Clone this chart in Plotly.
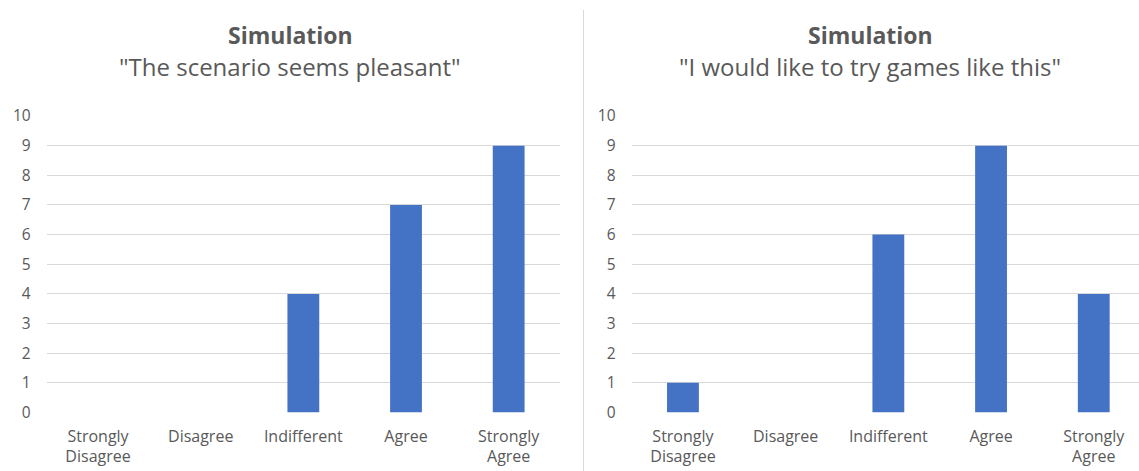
import plotly.graph_objects as go

categories = ["Strongly<br>Disagree", "Disagree", "Indifferent", "Agree", "Strongly<br>Agree"]
pleasant_counts = [0, 0, 4, 7, 9]
try_games_counts = [1, 0, 6, 9, 4]
main_title = "Simulation"
left_subtitle = "\"The scenario seems pleasant\""
right_subtitle = "\"I would like to try games like this\""
y_ticks = list(range(0, 11))

W, H = 1139, 471
BAR = "#4472C4"
GRID = "#D9D9D9"
TXT = "#595959"
FONT = "Open Sans"

def px_x(p):
    return p / W

def px_y(p):
    return (H - p) / H

fig = go.Figure()
fig.add_trace(go.Bar(x=categories, y=pleasant_counts, marker_color=BAR, marker_line_width=0,
                     width=0.31, xaxis="x", yaxis="y", showlegend=False))
fig.add_trace(go.Bar(x=categories, y=try_games_counts, marker_color=BAR, marker_line_width=0,
                     width=0.31, xaxis="x2", yaxis="y2", showlegend=False))

ydom = [px_y(412.5), px_y(116)]
cat_w = 102.7
right_start = 631.6
right_end_val = -0.5 + (W - right_start) / cat_w

xcommon = dict(showgrid=False, zeroline=False, showline=False, ticks="", automargin=False,
               tickfont=dict(family=FONT, size=16, color=TXT),
               ticklabelstandoff=12, type="category")
ycommon = dict(range=[0, 10], tickvals=y_ticks, showgrid=True, gridcolor=GRID, gridwidth=1,
               zeroline=False, showline=False, ticks="", automargin=False,
               tickfont=dict(family=FONT, size=15.5, color=TXT),
               ticklabelstandoff=15)

fig.update_layout(
    width=W, height=H,
    margin=dict(l=0, r=0, t=0, b=0, autoexpand=False),
    paper_bgcolor="white", plot_bgcolor="white",
    xaxis=dict(domain=[px_x(46.7), px_x(560)], range=[-0.5, 4.5], anchor="y", **xcommon),
    yaxis=dict(domain=ydom, anchor="x", **ycommon),
    xaxis2=dict(domain=[px_x(right_start), 1.0], range=[-0.5, right_end_val], anchor="y2", **xcommon),
    yaxis2=dict(domain=ydom, anchor="x2", **ycommon),
    font=dict(family=FONT, color=TXT),
)

for x, sub in [(290, left_subtitle), (870, right_subtitle)]:
    fig.add_annotation(x=px_x(x), y=px_y(35.5), xref="paper", yref="paper",
                       text=f"<b>{main_title}</b>", showarrow=False,
                       xanchor="center", yanchor="middle",
                       font=dict(family=FONT, size=23, color=TXT))
    fig.add_annotation(x=px_x(x), y=px_y(67), xref="paper", yref="paper",
                       text=sub, showarrow=False,
                       xanchor="center", yanchor="middle",
                       font=dict(family=FONT, size=24, color=TXT))

fig.add_shape(type="line", xref="paper", yref="paper",
              x0=px_x(583.5), x1=px_x(583.5), y0=0, y1=px_y(10),
              line=dict(color="#D9D9D9", width=1))

fig.write_html("out.html")
